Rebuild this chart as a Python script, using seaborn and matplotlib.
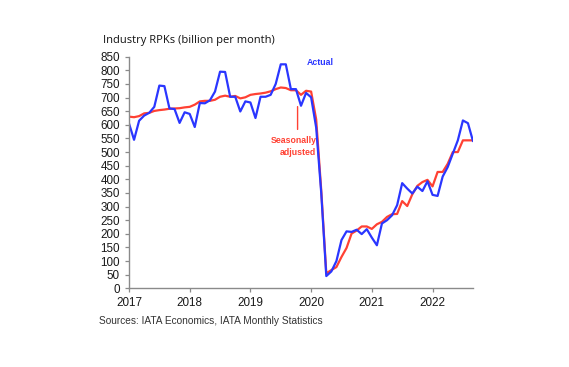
import numpy as np
import pandas as pd
import matplotlib
matplotlib.use("Agg")
import matplotlib.pyplot as plt
import seaborn as sns

# ---- data (billion RPKs per month), monthly Jan 2017 - Sep 2022 ----
start_year = 2017
actual = [
    605, 545, 615, 634, 644, 666, 744, 742, 660, 658, 607, 646,   # 2017
    640, 592, 680, 679, 690, 722, 795, 794, 703, 703, 649, 686,   # 2018
    682, 625, 703, 703, 710, 750, 822, 822, 731, 731, 670, 717,   # 2019
    701, 590, 350, 45, 62, 100, 177, 209, 207, 215, 199, 217,     # 2020
    186, 158, 238, 250, 268, 305, 386, 366, 348, 373, 357, 393,   # 2021
    343, 339, 410, 445, 494, 543, 616, 606, 540,                  # 2022
]
seasonally_adjusted = [
    630, 628, 632, 642, 644, 651, 654, 656, 659, 660, 661, 664,   # 2017
    666, 674, 686, 688, 688, 692, 703, 707, 703, 706, 697, 701,   # 2018
    710, 713, 715, 718, 723, 731, 737, 735, 727, 727, 710, 725,   # 2019
    722, 620, 360, 55, 67, 78, 115, 148, 201, 212, 227, 227,      # 2020
    218, 235, 244, 262, 272, 273, 320, 302, 345, 376, 390, 398,   # 2021
    374, 427, 427, 457, 500, 500, 543, 543, 543,                  # 2022
]
year_ticks = [2017, 2018, 2019, 2020, 2021, 2022]
y_ticks = list(range(0, 851, 50))

t = start_year + np.arange(len(actual)) / 12.0
df = pd.DataFrame({
    "t": np.concatenate([t, t]),
    "value": actual + seasonally_adjusted,
    "series": ["Actual"] * len(actual) + ["Seasonally adjusted"] * len(seasonally_adjusted),
})

sns.set_style("ticks")
plt.rcParams["font.family"] = ["Liberation Sans", "DejaVu Sans"]

BLUE = "#2a36ff"
RED = "#ff4133"

fig = plt.figure(figsize=(5.69, 3.67), dpi=100)
ax = fig.add_axes([0.2267, 0.2144, 0.6046, 0.6311])

sns.lineplot(data=df[df.series == "Seasonally adjusted"], x="t", y="value",
             color=RED, lw=1.6, ax=ax, legend=False)
sns.lineplot(data=df[df.series == "Actual"], x="t", y="value",
             color=BLUE, lw=1.6, ax=ax, legend=False)

ax.set_xlim(2017, t[-1])
ax.set_ylim(0, 850)
ax.set_xticks(year_ticks)
ax.set_xticklabels([str(y) for y in year_ticks])
ax.set_yticks(y_ticks)
ax.set_yticklabels([str(v) for v in y_ticks])
ax.set_xlabel("")
ax.set_ylabel("")

for side in ["top", "right"]:
    ax.spines[side].set_visible(False)
for side in ["left", "bottom"]:
    ax.spines[side].set_color("#8a8a8a")
    ax.spines[side].set_linewidth(1.0)
ax.tick_params(axis="both", direction="out", length=3, width=0.9, color="#8a8a8a",
               labelsize=8.4, labelcolor="#1a1a1a")
ax.tick_params(axis="y", pad=3.5)
ax.tick_params(axis="x", pad=3.5)

# annotations
ax.text(2019.93, 829, "Actual", color=BLUE, fontsize=6.3, fontweight="bold",
        ha="left", va="center")
ax.text(2020.086, 521, "Seasonally\nadjusted", color=RED, fontsize=6.3,
        fontweight="bold", ha="right", va="center", linespacing=1.5)
ax.annotate("", xy=(2019.777, 677), xytext=(2019.777, 573),
            arrowprops=dict(arrowstyle="-", color=RED, lw=1.0))

fig.text(103 / 569, 1 - 40 / 367, "Industry RPKs (billion per month)",
         fontsize=8.0, family=["Open Sans", "DejaVu Sans"], color="#111111",
         ha="left", va="center")
fig.text(99 / 569, 1 - 320.5 / 367, "Sources: IATA Economics, IATA Monthly Statistics",
         fontsize=7.3, color="#333333", ha="left", va="center")

fig.savefig("out.png", dpi=100, facecolor="white")
